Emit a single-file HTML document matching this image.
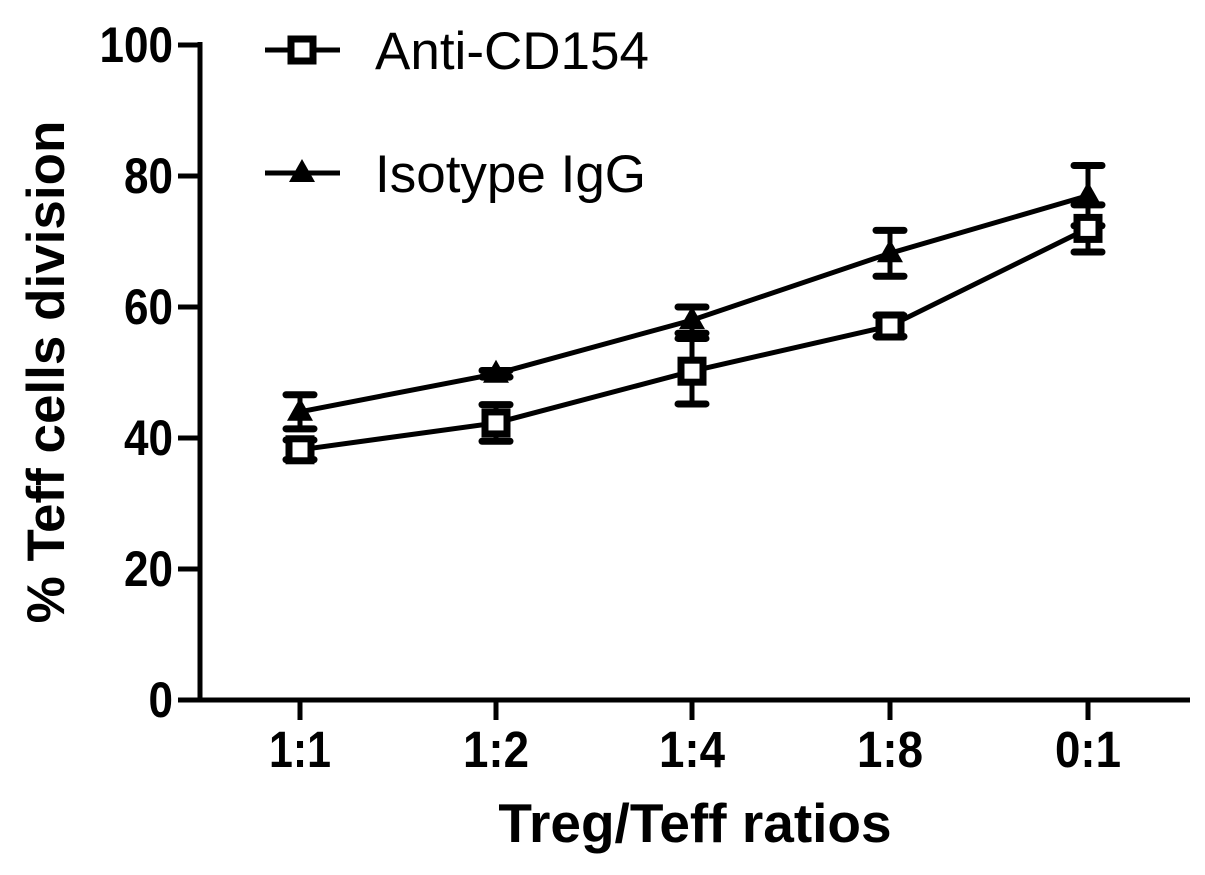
<!DOCTYPE html>
<html><head><meta charset="utf-8"><style>
html,body{margin:0;padding:0;background:#fff;}
svg{display:block;font-family:"Liberation Sans",Arial,sans-serif;}
</style></head><body>
<svg id="chart" width="1205" height="875" viewBox="0 0 1205 875">
<g id="axes"></g><g id="series"></g><g id="legend"></g>
</svg>
<script>
const categories = ["1:1","1:2","1:4","1:8","0:1"];
const antiValues = [38.2, 42.3, 50.2, 57.1, 72.0];
const antiErrors = [1.5, 2.8, 5.0, 1.6, 3.6];
const isoValues = [44.0, 49.8, 58.0, 68.2, 77.0];
const isoErrors = [2.6, 0.5, 2.0, 3.5, 4.6];
const yTicks = [0,20,40,60,80,100];

const NS="http://www.w3.org/2000/svg";
const X0=200, X1=1190, Y0=700, Y1=45;
const catX = [300,496,692,890,1088];
function xPos(i){return catX[i];}
function yPos(v){return Y0 - (v/100)*(Y0-Y1);}
function mk(tag, attrs, parent){const e=document.createElementNS(NS,tag);for(const k in attrs)e.setAttribute(k,attrs[k]);parent.appendChild(e);return e;}
const axes=document.getElementById('axes'), series=document.getElementById('series'), legend=document.getElementById('legend');

let a=mk('line',{x1:X0,y1:Y1-3,x2:X0,y2:Y0+2,stroke:'#000','stroke-width':5},axes);


a=mk('line',{x1:X0-2,y1:Y0,x2:X1,y2:Y0,stroke:'#000','stroke-width':5},axes);


yTicks.forEach(t=>{
  const y=yPos(t);
  mk('line',{x1:X0-22,y1:y,x2:X0,y2:y,stroke:'#000','stroke-width':5},axes);
  const s=String(t);
  const tx=mk('text',{x:X0-27,y:y+17,'text-anchor':'end','font-size':50,'font-weight':'bold','textLength':s.length*24.5,'lengthAdjust':'spacingAndGlyphs'},axes);
  tx.textContent=s;
  
  
});
categories.forEach((c,i)=>{
  const x=xPos(i);
  mk('line',{x1:x,y1:Y0,x2:x,y2:Y0+20,stroke:'#000','stroke-width':5},axes);
  const tx=mk('text',{x:x,y:Y0+67,'text-anchor':'middle','font-size':51,'font-weight':'bold','textLength':c.startsWith('1:1')?62:66,'lengthAdjust':'spacingAndGlyphs'},axes);
  tx.textContent=c;
  
  
});
let t=mk('text',{x:695,y:842,'text-anchor':'middle','font-size':55,'font-weight':'bold'},axes);
t.textContent='Treg/Teff ratios';


t=mk('text',{x:0,y:0,transform:'translate(64,372) rotate(-90)','text-anchor':'middle','font-size':53,'font-weight':'bold'},axes);
t.textContent='% Teff cells division';



function drawErr(vals,errs,g){
  vals.forEach((v,i)=>{
    const x=xPos(i), yt=yPos(v+errs[i]), yb=yPos(v-errs[i]);
    mk('line',{x1:x,y1:yt,x2:x,y2:yb,stroke:'#000','stroke-width':5},g);
    mk('line',{x1:x-14,y1:yt,x2:x+14,y2:yt,stroke:'#000','stroke-width':7,'stroke-linecap':'round'},g);
    mk('line',{x1:x-14,y1:yb,x2:x+14,y2:yb,stroke:'#000','stroke-width':7,'stroke-linecap':'round'},g);
  });
}
function square(x,y,g){return mk('rect',{x:x-11,y:y-11,width:22,height:22,fill:'#fff',stroke:'#000','stroke-width':7},g);}
function tri(x,y,g){return mk('polygon',{points:`${x},${y-14} ${x-13},${y+9} ${x+13},${y+9}`,fill:'#000'},g);}

const gIso=mk('g',{},series);


const gAnti=mk('g',{},series);


drawErr(isoValues,isoErrors,gIso);
drawErr(antiValues,antiErrors,gAnti);
mk('polyline',{points:isoValues.map((v,i)=>xPos(i)+','+yPos(v)).join(' '),fill:'none',stroke:'#000','stroke-width':5},gIso);
mk('polyline',{points:antiValues.map((v,i)=>xPos(i)+','+yPos(v)).join(' '),fill:'none',stroke:'#000','stroke-width':5},gAnti);
isoValues.forEach((v,i)=>{const p=tri(xPos(i),yPos(v),gIso);
  
  });
antiValues.forEach((v,i)=>{const p=square(xPos(i),yPos(v),gAnti);
  
  });

const l1=mk('g',{},legend);


mk('line',{x1:265,y1:50,x2:340,y2:50,stroke:'#000','stroke-width':5},l1);
square(302,50,l1);
let lt=mk('text',{x:375,y:69,'font-size':53},l1);lt.textContent='Anti-CD154';
const l2=mk('g',{},legend);


mk('line',{x1:265,y1:173,x2:340,y2:173,stroke:'#000','stroke-width':5},l2);
tri(302,173,l2);
lt=mk('text',{x:375,y:192,'font-size':53},l2);lt.textContent='Isotype IgG';
</script>
</body></html>
